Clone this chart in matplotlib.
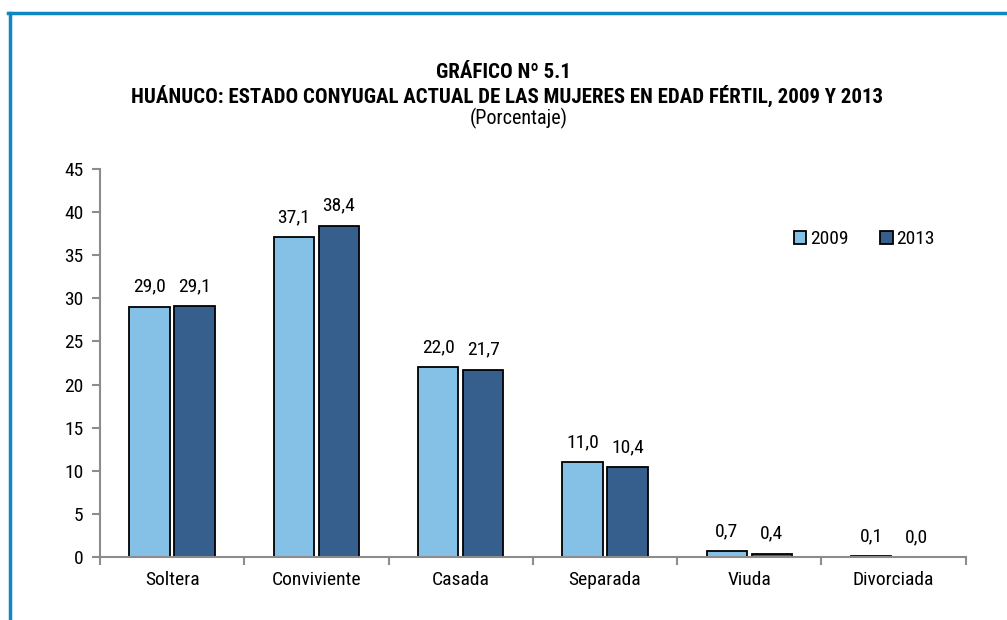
import matplotlib.pyplot as plt
import numpy as np

categorias = ['Soltera', 'Conviviente', 'Casada', 'Separada', 'Viuda', 'Divorciada']
v2009 = [29.0, 37.1, 22.0, 11.0, 0.7, 0.1]
v2013 = [29.1, 38.4, 21.7, 10.4, 0.4, 0.0]
anios = ['2009', '2013']

plt.rcParams['font.family'] = ['Roboto Condensed', 'PT Sans Narrow', 'Archivo Narrow',
                               'Liberation Sans', 'DejaVu Sans']

c_claro = '#85C1E6'
c_oscuro = '#365F8E'
gris = '#8C8C8C'
fs = 14

fig = plt.figure(figsize=(10.07, 6.2), dpi=100)
ax = fig.add_axes([0.0993, 0.1016, 0.8597, 0.6258])

x = np.arange(len(categorias))
w = 0.28
d = 0.156
b1 = ax.bar(x - d, v2009, w, color=c_claro, edgecolor='black', linewidth=1.3, label=anios[0])
b2 = ax.bar(x + d, v2013, w, color=c_oscuro, edgecolor='black', linewidth=1.3, label=anios[1])

for barras, vals in ((b1, v2009), (b2, v2013)):
    for b, v in zip(barras, vals):
        ax.annotate(f'{v:.1f}'.replace('.', ','), (b.get_x() + b.get_width() / 2, v),
                    xytext=(0, 8), textcoords='offset points', ha='center', va='bottom',
                    fontsize=fs)

ax.set_xlim(-0.5, len(categorias) - 0.5)
ax.set_ylim(0, 45)
ax.set_yticks(range(0, 46, 5))
ax.set_xticks(x)
ax.set_xticklabels(categorias, fontsize=fs)
ax.set_xticks(np.arange(-0.5, len(categorias), 1), minor=True)
ax.tick_params(axis='x', which='major', length=0, pad=10)
ax.tick_params(axis='x', which='minor', length=6, width=1.5, color=gris)
ax.tick_params(axis='y', length=6, width=1.5, color=gris, labelsize=fs, pad=6)
for s in ('top', 'right'):
    ax.spines[s].set_visible(False)
for s in ('left', 'bottom'):
    ax.spines[s].set_color(gris)
    ax.spines[s].set_linewidth(1.5)

leg = ax.legend(loc='center', bbox_to_anchor=(0.883, 0.82), ncol=2, frameon=False,
                fontsize=fs, handlelength=0.65, handleheight=0.65, handletextpad=0.2,
                columnspacing=1.6)

fig.text(0.5, 1 - 73 / 620, 'GRÁFICO Nº 5.1', ha='center', va='center',
         fontsize=15, fontweight='bold')
fig.text(0.503, 1 - 96 / 620,
         'HUÁNUCO: ESTADO CONYUGAL ACTUAL DE LAS MUJERES EN EDAD FÉRTIL, 2009 Y 2013',
         ha='center', va='center', fontsize=15, fontweight='bold')
fig.text(0.515, 1 - 118 / 620, '(Porcentaje)', ha='center', va='center', fontsize=14.5)

# marco azul
fig.add_artist(plt.Line2D([8 / 1007, 1], [1 - 13 / 620, 1 - 13 / 620], color='#0E87C2',
                          linewidth=2.5, transform=fig.transFigure))
fig.add_artist(plt.Line2D([9.5 / 1007, 9.5 / 1007], [0, 1 - 13 / 620], color='#0E87C2',
                          linewidth=2.5, transform=fig.transFigure))

fig.savefig('out.png', dpi=100)
